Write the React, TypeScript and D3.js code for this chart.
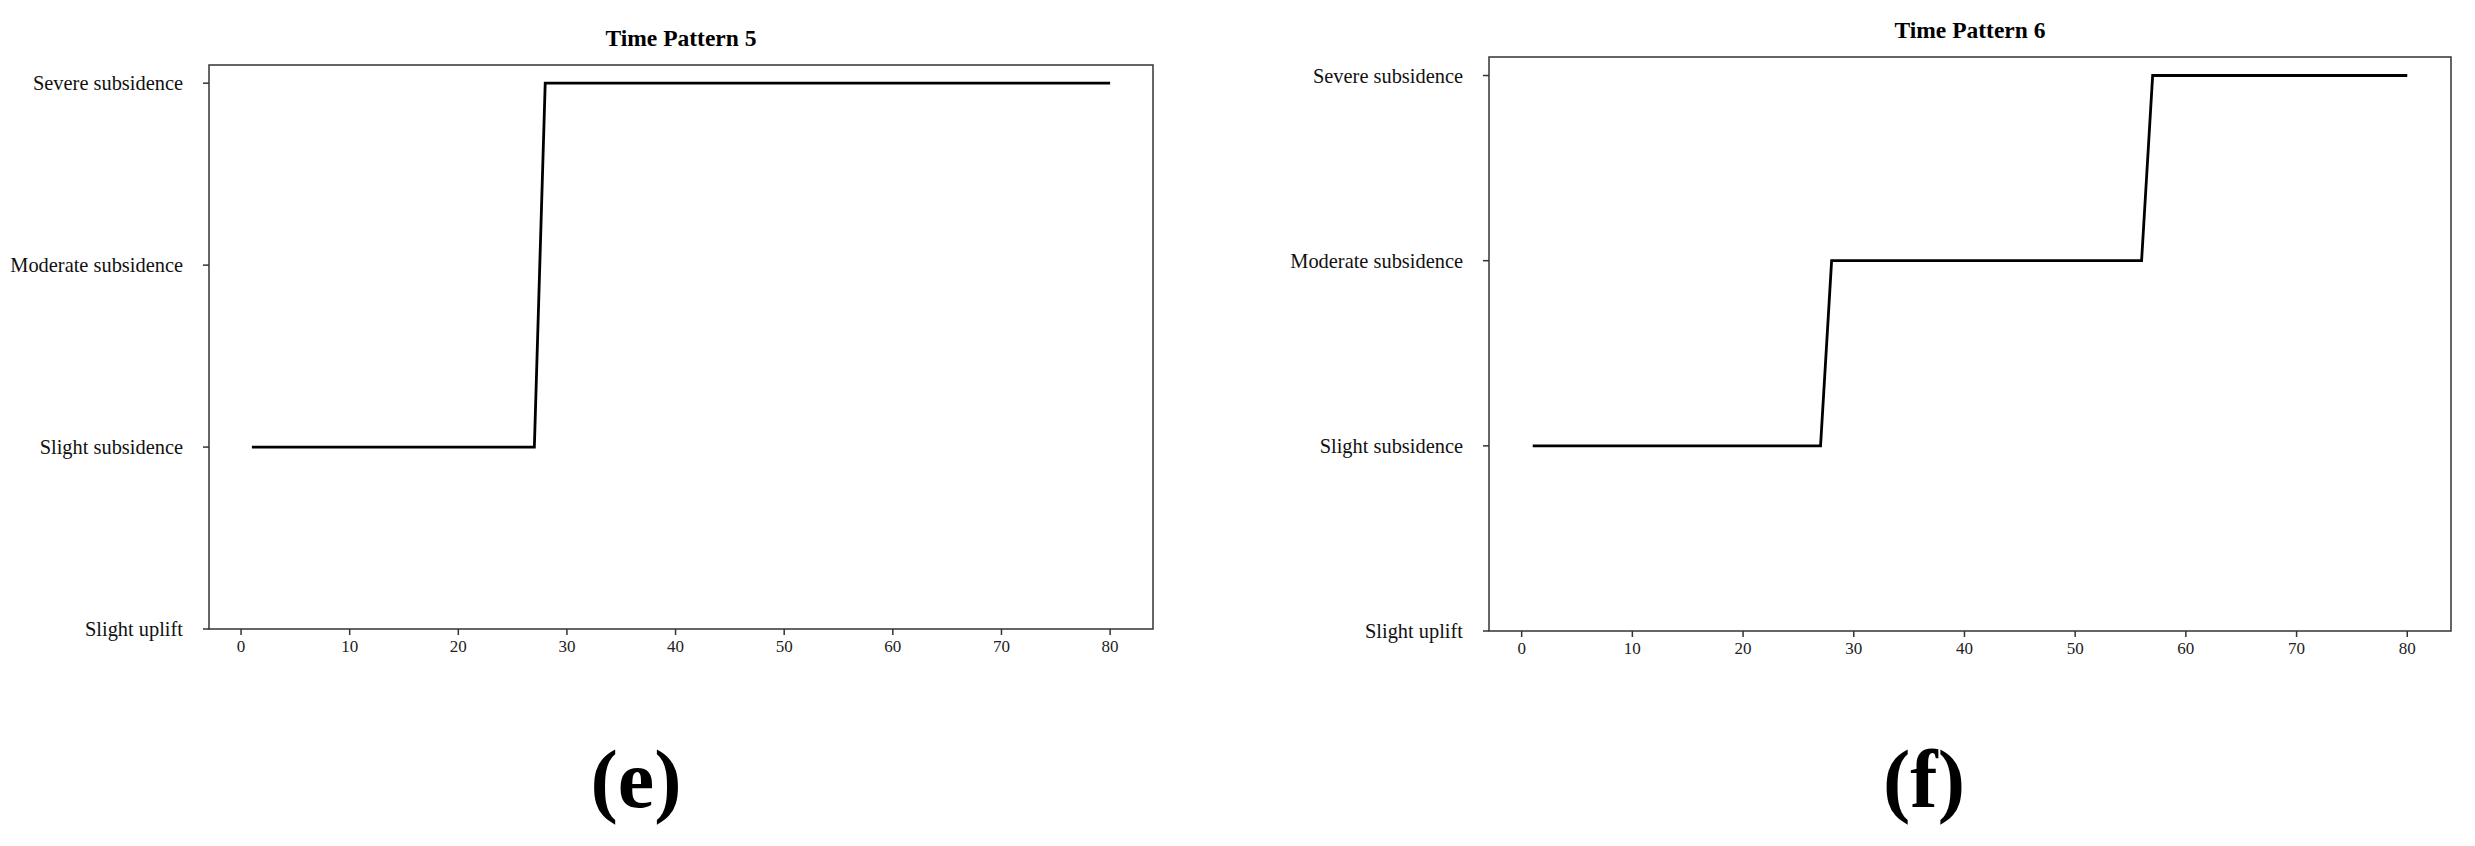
import React from "react";
import * as d3 from "d3";

const levels = ["Slight uplift", "Slight subsidence", "Moderate subsidence", "Severe subsidence"];
const xTicks = [0, 10, 20, 30, 40, 50, 60, 70, 80];
const pattern5X = [1, 27, 28, 80];
const pattern5Y = [1, 1, 3, 3];
const pattern6X = [1, 27, 28, 56, 57, 80];
const pattern6Y = [1, 1, 2, 2, 3, 3];
const titles = ["Time Pattern 5", "Time Pattern 6"];
const panelLabels = ["(e)", "(f)"];

const FONT = "'Liberation Serif', 'Times New Roman', serif";

type PanelProps = {
  left: number; right: number; top: number; bottom: number;
  xs: number[]; ys: number[]; title: string; label: string; labelX: number;
};

function Panel({ left, right, top, bottom, xs, ys, title, label, labelX }: PanelProps) {
  const x = d3.scaleLinear().domain([-2.95, 83.95]).range([left, right]);
  const y = d3.scaleLinear().domain([0, 3.1]).range([bottom, top]);
  const pts: [number, number][] = xs.map((v, i) => [v, ys[i]]);
  const line = d3.line<[number, number]>().x(d => x(d[0])).y(d => y(d[1]));
  const axisColor = "#333";
  return (
    <g>
      <text x={(left + right) / 2} y={top - 19} textAnchor="middle" fontFamily={FONT} fontWeight="bold" fontSize={23.5} fill="#000">{title}</text>
      <rect x={left} y={top} width={right - left} height={bottom - top} fill="none" stroke={axisColor} strokeWidth={1.5} />
      {levels.map((lv, i) => (
        <g key={lv}>
          <line x1={left - 6} x2={left} y1={y(i)} y2={y(i)} stroke={axisColor} strokeWidth={1.5} />
          <text x={left - 26} y={y(i)} textAnchor="end" dominantBaseline="central" fontFamily={FONT} fontSize={20.4} fill="#111">{lv}</text>
        </g>
      ))}
      {xTicks.map(t => (
        <g key={t}>
          <line x1={x(t)} x2={x(t)} y1={bottom} y2={bottom + 6} stroke={axisColor} strokeWidth={1.5} />
          <text x={x(t)} y={bottom + 23} textAnchor="middle" fontFamily={FONT} fontSize={17} fill="#222">{t}</text>
        </g>
      ))}
      <path d={line(pts) || ""} fill="none" stroke="#000" strokeWidth={2.8} strokeLinejoin="miter" />
      <text x={labelX} y={807} textAnchor="middle" fontFamily={FONT} fontWeight="bold" fontSize={82} fill="#000">{label}</text>
    </g>
  );
}

export default function App() {
  return (
    <svg width={2475} height={846} style={{ position: "absolute", left: 0, top: 0, background: "#fff" }}>
      <rect x={0} y={0} width={2475} height={846} fill="#fff" />
      <Panel left={209} right={1153} top={65} bottom={629} xs={pattern5X} ys={pattern5Y} title={titles[0]} label={panelLabels[0]} labelX={636} />
      <Panel left={1489} right={2451} top={57} bottom={631} xs={pattern6X} ys={pattern6Y} title={titles[1]} label={panelLabels[1]} labelX={1924} />
    </svg>
  );
}
